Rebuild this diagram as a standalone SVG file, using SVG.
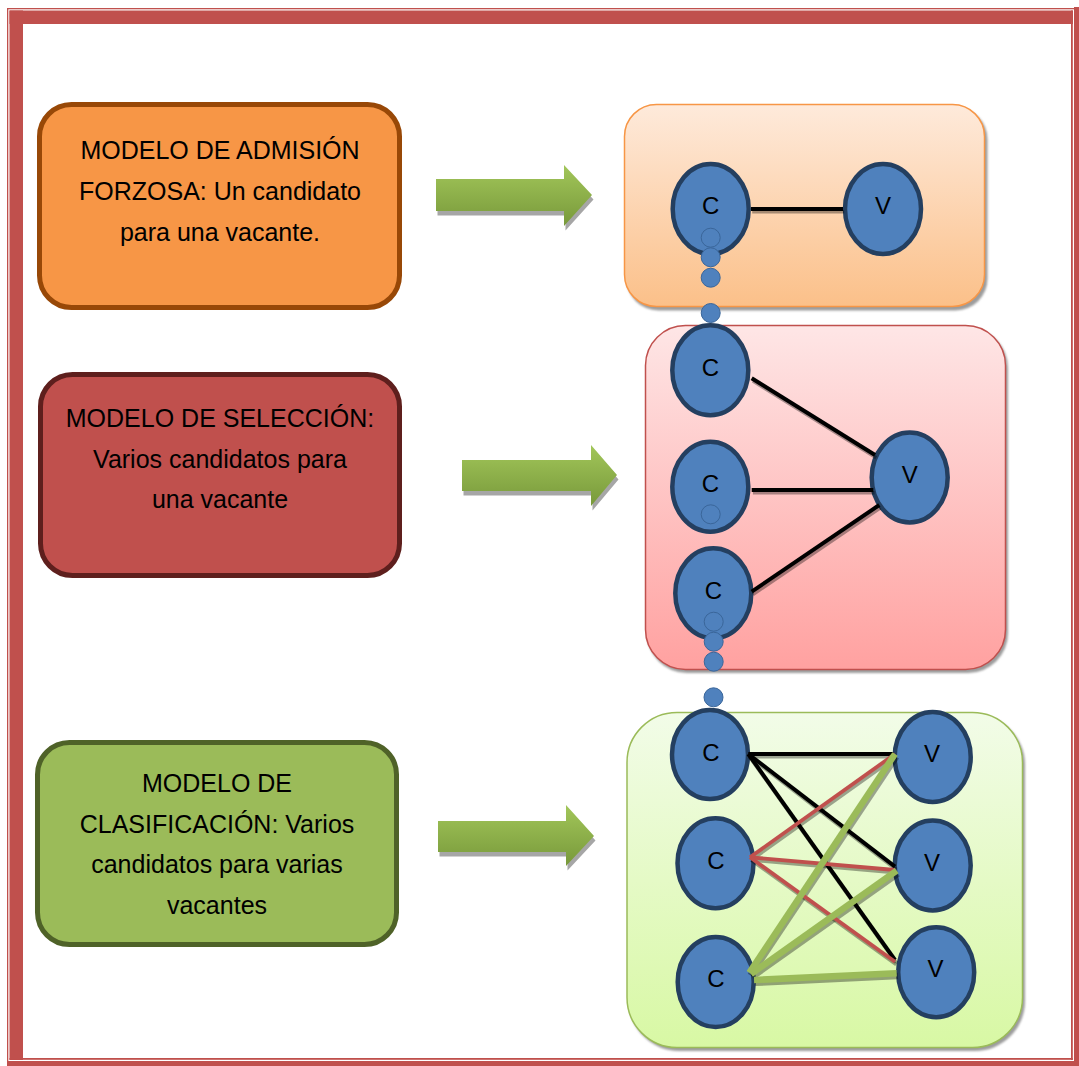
<svg xmlns="http://www.w3.org/2000/svg" width="1079" height="1066" viewBox="0 0 1079 1066">
  <defs>
    <linearGradient id="gArrow" x1="0" y1="0" x2="0" y2="1">
      <stop offset="0" stop-color="#A2C65A"/>
      <stop offset="1" stop-color="#78993A"/>
    </linearGradient>
    <linearGradient id="gOrange" x1="0" y1="0" x2="0" y2="1">
      <stop offset="0" stop-color="#FEEADB"/>
      <stop offset="1" stop-color="#FBC089"/>
    </linearGradient>
    <linearGradient id="gRed" x1="0" y1="0" x2="0" y2="1">
      <stop offset="0" stop-color="#FEE6E6"/>
      <stop offset="1" stop-color="#FFA1A0"/>
    </linearGradient>
    <linearGradient id="gGreen" x1="0" y1="0" x2="0" y2="1">
      <stop offset="0" stop-color="#F2FCE8"/>
      <stop offset="1" stop-color="#D8F8A4"/>
    </linearGradient>
    <filter id="soft" x="-5%" y="-5%" width="110%" height="110%">
      <feGaussianBlur stdDeviation="1"/>
    </filter>
  </defs>
  <style>
    .frame { fill: #C0504D; }
    .label { font-family: "Liberation Sans", Arial, sans-serif; font-size: 25px; fill: #000; text-anchor: middle; }
    .nodeText { font-family: "Liberation Sans", Arial, sans-serif; font-size: 24px; fill: #000; text-anchor: middle; }
    .arrow { fill: url(#gArrow); }
    .arrowShadow { fill: #A6A6A6; }
    .panelShadow { fill: #9C9C9C; filter: url(#soft); }
    .ell { fill: #4F81BD; stroke: #243F60; stroke-width: 4.5; }
    .dot { fill: #4F81BD; stroke: #3A669A; stroke-width: 1; }
    .lk { stroke: #000; stroke-width: 4; fill: none; }
    .lr { stroke: #C0504D; stroke-width: 3.8; fill: none; }
    .lg { stroke: #9BBB59; stroke-width: 6.5; fill: none; }
    .sh { stroke: #000; stroke-opacity: 0.35; fill: none; }
  </style>

  <rect width="1079" height="1066" fill="#FFFFFF"/>

  <!-- page border: thin/thick double frame -->
  <g id="page-border">
    <rect class="frame" x="7" y="8" width="1.3" height="1058"/>
    <rect class="frame" x="7" y="8" width="1072" height="1.3"/>
    <rect class="frame" x="1074" y="7" width="5" height="1059"/>
    <rect class="frame" x="7" y="1061" width="1072" height="5"/>
    <rect class="frame" x="9.5" y="10.5" width="13.5" height="1049.5"/>
    <rect class="frame" x="9.5" y="10.5" width="1063.5" height="13.5"/>
    <rect class="frame" x="1071" y="10.5" width="1.8" height="1049.5"/>
    <rect class="frame" x="9.5" y="1058" width="1063.3" height="1.8"/>
  </g>

  <!-- model description boxes -->
  <g id="box-admision">
    <rect x="39.5" y="104.5" width="360" height="203" rx="32" fill="#F79646" stroke="#984807" stroke-width="5"/>
    <text class="label" x="220" y="159">MODELO DE ADMISIÓN</text>
    <text class="label" x="220" y="200">FORZOSA: Un candidato</text>
    <text class="label" x="220" y="241">para una vacante.</text>
  </g>
  <g id="box-seleccion">
    <rect x="40.5" y="374.5" width="359" height="201" rx="32" fill="#C0504D" stroke="#5E1F1D" stroke-width="5"/>
    <text class="label" x="220" y="427" font-size="24.3">MODELO DE SELECCIÓN:</text>
    <text class="label" x="220" y="468">Varios candidatos para</text>
    <text class="label" x="220" y="508">una vacante</text>
  </g>
  <g id="box-clasificacion">
    <rect x="37.5" y="742.5" width="359" height="202" rx="32" fill="#9BBB59" stroke="#4F6228" stroke-width="5"/>
    <text class="label" x="217" y="792">MODELO DE</text>
    <text class="label" x="217" y="833">CLASIFICACIÓN: Varios</text>
    <text class="label" x="217" y="873">candidatos para varias</text>
    <text class="label" x="217" y="914">vacantes</text>
  </g>

  <!-- block arrows -->
  <g id="arrow-1">
    <path class="arrowShadow" transform="translate(1.5,4.5)" d="M436,179 H564 V165 L592,195 L564,226 V211 H436 Z"/>
    <path class="arrow" d="M436,179 H564 V165 L592,195 L564,226 V211 H436 Z"/>
  </g>
  <g id="arrow-2">
    <path class="arrowShadow" transform="translate(1.5,4.5)" d="M462,460 H591 V445 L617,475 L591,506 V491 H462 Z"/>
    <path class="arrow" d="M462,460 H591 V445 L617,475 L591,506 V491 H462 Z"/>
  </g>
  <g id="arrow-3">
    <path class="arrowShadow" transform="translate(1.5,4.5)" d="M438,821 H566 V805 L594,836 L566,866 V852 H438 Z"/>
    <path class="arrow" d="M438,821 H566 V805 L594,836 L566,866 V852 H438 Z"/>
  </g>

  <!-- diagram panels -->
  <g id="panel-admision">
    <rect class="panelShadow" x="626.5" y="107.5" width="361" height="203" rx="32"/>
    <rect x="624.5" y="104.5" width="360" height="202" rx="32" fill="url(#gOrange)" stroke="#F79646" stroke-width="1.5"/>
  </g>
  <g id="panel-seleccion">
    <rect class="panelShadow" x="647" y="328" width="361" height="345" rx="40"/>
    <rect x="645.5" y="325.5" width="360" height="344" rx="40" fill="url(#gRed)" stroke="#C0504D" stroke-width="1.5"/>
  </g>
  <g id="panel-clasificacion">
    <rect class="panelShadow" x="629" y="715" width="396" height="336" rx="50"/>
    <rect x="627" y="712.5" width="395.5" height="335" rx="50" fill="url(#gGreen)" stroke="#9BBB59" stroke-width="1.5"/>
  </g>

  <!-- candidate (C) and vacancy (V) nodes -->
  <g id="p1-c"><ellipse class="ell" cx="710.7" cy="209" rx="38" ry="45"/><text class="nodeText" x="710.7" y="214">C</text></g>
  <g id="p1-v"><ellipse class="ell" cx="883" cy="209" rx="38" ry="45"/><text class="nodeText" x="883" y="214">V</text></g>

  <g id="p2-c1"><ellipse class="ell" cx="710.3" cy="370.3" rx="38" ry="45"/><text class="nodeText" x="710.3" y="375.5">C</text></g>
  <g id="p2-c2"><ellipse class="ell" cx="710.3" cy="486.7" rx="38" ry="45"/><text class="nodeText" x="710.3" y="492">C</text></g>
  <g id="p2-c3"><ellipse class="ell" cx="713.3" cy="593.3" rx="38" ry="45"/><text class="nodeText" x="713.3" y="598.5">C</text></g>
  <g id="p2-v"><ellipse class="ell" cx="909.7" cy="477.5" rx="38" ry="45"/><text class="nodeText" x="909.7" y="482.5">V</text></g>

  <g id="p3-c1"><ellipse class="ell" cx="710" cy="754.5" rx="38" ry="44.5"/><text class="nodeText" x="711" y="760.5">C</text></g>
  <g id="p3-c2"><ellipse class="ell" cx="715.5" cy="863.3" rx="38" ry="45"/><text class="nodeText" x="716" y="868.5">C</text></g>
  <g id="p3-c3"><ellipse class="ell" cx="715.7" cy="982" rx="38" ry="45"/><text class="nodeText" x="716" y="987">C</text></g>
  <g id="p3-v1"><ellipse class="ell" cx="932.7" cy="757" rx="38" ry="45"/><text class="nodeText" x="932" y="762">V</text></g>
  <g id="p3-v2"><ellipse class="ell" cx="932.7" cy="865.5" rx="38" ry="45"/><text class="nodeText" x="932" y="870.5">V</text></g>
  <g id="p3-v3"><ellipse class="ell" cx="936.2" cy="972.2" rx="38" ry="45"/><text class="nodeText" x="935.5" y="977">V</text></g>

  <!-- connectors -->
  <g id="connectors">
    <!-- soft drop shadows under the lines -->
    <g class="sh" transform="translate(1.2,2.8)">
      <line x1="751" y1="209" x2="843" y2="209" stroke-width="3.5"/>
      <line x1="751.7" y1="378.3" x2="875" y2="455" stroke-width="3.5"/>
      <line x1="751.7" y1="490" x2="873.3" y2="490" stroke-width="3.5"/>
      <line x1="751.7" y1="591.7" x2="879.3" y2="505" stroke-width="3.5"/>
      <line x1="748.3" y1="754" x2="893.3" y2="754" stroke-width="3.5"/>
      <line x1="748.3" y1="754" x2="895" y2="866.7" stroke-width="3.5"/>
      <line x1="748.3" y1="754" x2="895" y2="960" stroke-width="3.5"/>
      <line x1="750" y1="857.3" x2="895" y2="754" stroke-width="3.5"/>
      <line x1="750" y1="857.3" x2="895" y2="870" stroke-width="3.5"/>
      <line x1="750" y1="857.3" x2="895" y2="961.7" stroke-width="3.5"/>
      <line x1="749.3" y1="972.7" x2="895" y2="754" stroke-width="6.5"/>
      <line x1="751" y1="974" x2="896.7" y2="870.7" stroke-width="6.5"/>
      <line x1="754" y1="980" x2="896.7" y2="973.3" stroke-width="6.5"/>
    </g>
    <!-- admission -->
    <line class="lk" x1="751" y1="209" x2="843" y2="209"/>
    <!-- selection -->
    <line class="lk" x1="751.7" y1="378.3" x2="875" y2="455"/>
    <line class="lk" x1="751.7" y1="490" x2="873.3" y2="490"/>
    <line class="lk" x1="751.7" y1="591.7" x2="879.3" y2="505"/>
    <!-- classification -->
    <line class="lk" x1="748.3" y1="754" x2="893.3" y2="754"/>
    <line class="lk" x1="748.3" y1="754" x2="895" y2="866.7"/>
    <line class="lk" x1="748.3" y1="754" x2="895" y2="960"/>
    <line class="lr" x1="750" y1="857.3" x2="895" y2="754"/>
    <line class="lr" x1="750" y1="857.3" x2="895" y2="870"/>
    <line class="lr" x1="750" y1="857.3" x2="895" y2="961.7"/>
    <line class="lg" x1="749.3" y1="972.7" x2="895" y2="754"/>
    <line class="lg" x1="751" y1="974" x2="896.7" y2="870.7"/>
    <line class="lg" x1="754" y1="980" x2="896.7" y2="973.3"/>
  </g>

  <!-- chain of small dots joining the candidate columns -->
  <g id="dot-chain">
    <circle class="dot" cx="710.7" cy="237.7" r="9.5"/>
    <circle class="dot" cx="710.7" cy="257.3" r="9.5"/>
    <circle class="dot" cx="710.7" cy="277.7" r="9.5"/>
    <circle class="dot" cx="710.7" cy="313" r="9.5"/>
    <circle class="dot" cx="710.7" cy="514.3" r="9.5"/>
    <circle class="dot" cx="713.7" cy="621.7" r="9.5"/>
    <circle class="dot" cx="713.7" cy="641.7" r="9.5"/>
    <circle class="dot" cx="713.7" cy="661.7" r="9.5"/>
    <circle class="dot" cx="713.5" cy="697.3" r="9.5"/>
  </g>
</svg>
